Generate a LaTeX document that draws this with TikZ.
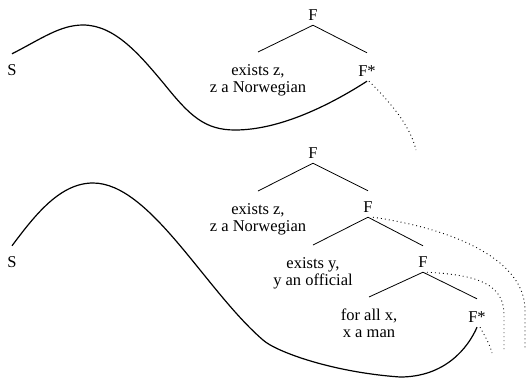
\documentclass[tikz,border=0pt]{standalone}
\usepackage{fontspec}
\setmainfont{Liberation Serif}
\begin{document}
\begin{tikzpicture}[x=1pt,y=-1pt,
  lbl/.style={font=\fontsize{16.5}{17}\selectfont, inner sep=5pt, text height=16pt, text depth=0pt, anchor=base},
  lblstar/.style={lbl, text height=18pt},
  txt/.style={font=\fontsize{16.5}{17}\selectfont, align=center, inner xsep=0pt, inner ysep=12pt, anchor=north},
  edge/.style={line width=0.8pt},
  curve/.style={line width=1.2pt},
  dots/.style={line width=0.9pt, dash pattern=on 0.9pt off 3.1pt}]
\useasboundingbox (0,0) rectangle (528,381);

% ---------- top tree ----------
\node[lbl] (Ftop) at (313,20) {F};
\node[txt] (ez1) at (258,52) {exists z,\\z a Norwegian};
\node[lblstar] (Fs1) at (367,76) {F*};
\node[lbl] (S1) at (12,75) {S};
\coordinate (d0) at (416,150);

\draw[edge] (Ftop.south) -- (ez1.north);
\draw[edge] (Ftop.south) -- (Fs1.north);
\draw[curve] (S1.north) .. controls (41,39) and (60,25) .. (83,25)
  .. controls (115,25) and (140,55) .. (165,85)
  .. controls (190,116) and (205,130) .. (235,130)
  .. controls (280,130) and (330,105) .. (Fs1.south);
\draw[dots] ([xshift=2pt]Fs1.south) .. controls (390,102) and (410,125) .. (d0);

% ---------- bottom tree ----------
\node[lbl] (F2a) at (313,158) {F};
\node[txt] (ez2) at (258,191) {exists z,\\z a Norwegian};
\node[lbl] (F2b) at (368,212) {F};
\node[txt] (ey) at (313,245) {exists y,\\y an official};
\node[lbl] (F2c) at (423,267) {F};
\node[txt] (fa) at (369,297) {for all x,\\x a man};
\node[lblstar] (Fs2) at (477,322) {F*};
\node[lbl] (S2) at (12,267) {S};
\coordinate (d1) at (525,350);
\coordinate (d2) at (504,350);
\coordinate (d3) at (492,353);

\draw[edge] (F2a.south) -- (ez2.north);
\draw[edge] (F2a.south) -- (F2b.north);
\draw[edge] (F2b.south) -- (ey.north);
\draw[edge] (F2b.south) -- (F2c.north);
\draw[edge] (F2c.south) -- (fa.north);
\draw[edge] (F2c.south) -- (Fs2.north);

\draw[curve] (S2.north) .. controls (35,215) and (60,183) .. (93,183)
  .. controls (150,183) and (205,290) .. (263,340)
  .. controls (275,351) and (330,372) .. (400,377)
  .. controls (445,377) and (468,348) .. (Fs2.south);

\draw[dots] ([xshift=5pt]F2b.south) .. controls (460,230) and (525,262) .. (525,310) -- (d1);
\draw[dots] ([xshift=4pt]F2c.south) .. controls (480,275) and (504,285) .. (504,315) -- (d2);
\draw[dots] ([xshift=3pt]Fs2.south) .. controls (486,338) and (490,345) .. (d3);
\end{tikzpicture}
\end{document}
